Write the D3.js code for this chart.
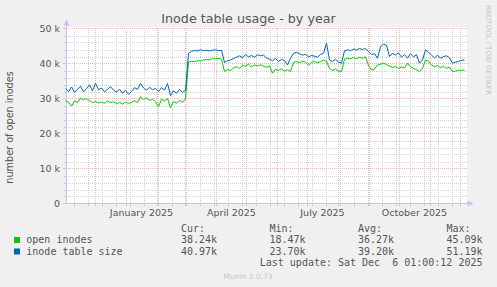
<!DOCTYPE html>
<html><head><meta charset="utf-8">
<script src="https://cdn.jsdelivr.net/npm/d3@7/dist/d3.min.js"></script>
<style>html,body{margin:0;padding:0;background:#F0F0F0;}svg{display:block;}</style>
</head><body>
<script>
// ---- data ----
const title = "Inode table usage - by year";
const yLabel = "number of open inodes";
const startTime = Date.UTC(2024, 10, 1, 1);   // Nov 1 2024 01:00
const endTime = Date.UTC(2025, 11, 6, 1);     // Dec 6 2025 01:00
const stepDays = 3;
const seriesNames = ["open inodes", "inode table size"];
const seriesColors = ["#00CC00", "#0066B3"];
// values in thousands, one every 3 days
const openInodes = [29.4,29.0,27.8,29.3,28.9,30.1,29.6,30.0,29.4,28.8,29.2,28.7,29.0,28.6,29.3,28.8,29.1,28.5,28.9,28.4,
29.0,28.6,28.9,29.4,28.8,30.5,29.7,30.2,29.4,29.8,29.1,27.6,29.8,29.3,30.0,27.3,29.1,28.7,29.5,28.9,
29.9,40.4,40.6,40.5,40.8,40.7,41.0,41.2,41.0,41.4,41.3,41.5,41.2,37.7,38.3,38.0,38.7,39.1,38.6,39.5,
39.2,39.8,39.0,39.6,39.3,39.6,39.2,38.9,39.3,37.2,38.4,38.0,38.5,37.8,38.2,37.7,40.3,40.6,40.2,40.7,
40.4,39.5,40.3,40.6,40.2,40.5,41.0,40.6,38.6,38.0,38.4,37.8,37.7,41.2,41.5,41.3,41.7,41.4,41.8,41.5,
41.9,39.4,38.1,38.4,39.6,39.8,40.1,39.7,39.2,38.9,39.1,38.6,39.0,38.7,40.1,39.1,38.6,38.2,37.7,38.6,
41.0,40.6,39.6,39.1,39.4,38.8,39.2,38.6,39.0,37.7,37.8,38.1,38.0,38.2];
const tableSize = [32.9,32.0,33.3,31.8,32.6,33.5,31.9,32.8,33.9,32.2,34.3,32.5,33.0,31.9,32.6,33.4,32.4,31.8,32.7,31.5,
32.3,31.2,32.0,33.1,32.6,34.3,33.0,32.4,33.2,32.5,32.9,32.0,33.1,32.4,34.3,30.8,32.2,31.5,32.6,31.8,
32.3,42.9,43.5,43.7,43.6,43.9,43.7,43.8,43.6,43.8,43.9,43.7,43.8,40.3,40.8,41.0,41.4,41.8,42.2,41.6,
42.6,41.9,42.3,41.8,42.5,42.2,42.4,41.6,41.2,40.8,41.4,40.6,41.2,40.8,39.6,41.5,42.9,43.2,42.8,42.4,
42.6,41.9,42.3,42.1,41.8,42.6,42.9,45.8,41.0,40.6,41.2,40.4,40.1,43.6,43.9,43.7,44.1,43.8,44.3,44.0,
44.3,43.4,42.6,42.8,41.5,44.8,45.5,45.2,42.0,42.9,42.4,43.0,41.8,42.6,41.5,42.8,41.9,42.5,40.1,41.0,
43.9,43.2,42.4,41.6,42.4,41.5,42.0,42.2,41.6,40.1,40.4,40.6,40.9,41.0];
const yTicks = [0, 10, 20, 30, 40, 50];
const yTickLabels = ["0", "10 k", "20 k", "30 k", "40 k", "50 k"];
const xLabelDates = [Date.UTC(2025,0,16), Date.UTC(2025,3,16), Date.UTC(2025,6,16), Date.UTC(2025,9,16)];
const xLabels = ["January 2025", "April 2025", "July 2025", "October 2025"];
const legendHeaders = ["Cur:", "Min:", "Avg:", "Max:"];
const legendValues = [["38.24k","18.47k","36.27k","45.09k"],["40.97k","23.70k","39.20k","51.19k"]];
const lastUpdate = "Last update: Sat Dec  6 01:00:12 2025";
const footer = "Munin 2.0.73";
const sideText = "RRDTOOL / TOBI OETIKER";

// ---- drawing ----
const W = 497, H = 287;
const svg = d3.select("body").append("svg").attr("width", W).attr("height", H)
  .style("font-family", "'DejaVu Sans', sans-serif");
svg.append("rect").attr("width", W).attr("height", H).attr("fill", "#F0F0F0");

const x = d3.scaleUtc().domain([startTime, endTime]).range([65.5, 465.5]);
const y = d3.scaleLinear().domain([0, 50]).range([203.5, 28.5]);
const L = 66, R = 467, T = 28, B = 203.5;

svg.append("rect").attr("x", L).attr("y", 27).attr("width", R - L).attr("height", B - 27).attr("fill", "#FFFFFF");

const g = svg.append("g").attr("shape-rendering", "crispEdges");
const minorColor = "#d2d2d2", majorColor = "#efb4b4";
// minor vertical grid (every 14 days)
const minorDates = [];
for (let t = Date.UTC(2024,10,10); t < endTime; t += 14*86400000) minorDates.push(t);
minorDates.forEach(t => {
  const px = Math.round(x(t)) + 0.5;
  g.append("line").attr("x1", px).attr("x2", px).attr("y1", T).attr("y2", B)
    .attr("stroke", minorColor).attr("stroke-dasharray", "1,1");
  g.append("line").attr("x1", px).attr("x2", px).attr("y1", B).attr("y2", B + 2).attr("stroke", "#c8c8c8");
});
// minor horizontal grid (every 2k)
d3.range(2, 50, 2).filter(v => v % 10 !== 0).forEach(v => {
  const py = Math.round(y(v)) + 0.5;
  g.append("line").attr("x1", L).attr("x2", R + 1).attr("y1", py).attr("y2", py)
    .attr("stroke", minorColor).attr("stroke-dasharray", "1,1");
  g.append("line").attr("x1", L - 2).attr("x2", L).attr("y1", py).attr("y2", py).attr("stroke", "#c8c8c8");
});
// major vertical grid (months)
const months = d3.utcMonth.range(new Date(startTime), new Date(endTime));
months.forEach(m => {
  const px = Math.round(x(m)) + 0.5;
  g.append("line").attr("x1", px).attr("x2", px).attr("y1", T).attr("y2", B)
    .attr("stroke", majorColor).attr("stroke-dasharray", "1,1");
  g.append("line").attr("x1", px).attr("x2", px).attr("y1", B).attr("y2", B + 2).attr("stroke", majorColor);
});
// major horizontal grid
yTicks.forEach(v => {
  const py = Math.round(y(v) - 0.5) + 0.5;
  g.append("line").attr("x1", L).attr("x2", R + 1).attr("y1", py).attr("y2", py)
    .attr("stroke", majorColor).attr("stroke-dasharray", "1,1");
  g.append("line").attr("x1", L - 3).attr("x2", L).attr("y1", py).attr("y2", py).attr("stroke", majorColor);
});

// axes
const axisColor = "#c4c4f4";
g.append("line").attr("x1", 66.5).attr("x2", 66.5).attr("y1", 204).attr("y2", 24).attr("stroke", axisColor);
g.append("line").attr("x1", 64).attr("x2", 469).attr("y1", 203.5).attr("y2", 203.5).attr("stroke", axisColor);
svg.append("path").attr("d", "M63.5,25.5 L66.5,19.5 L69.5,25.5 Z").attr("fill", axisColor);
svg.append("path").attr("d", "M467.5,200.5 L473.5,203.5 L467.5,206.5 Z").attr("fill", axisColor);

// series
const line = d3.line().x(d => x(d[0])).y(d => y(d[1]));
[openInodes, tableSize].forEach((arr, i) => {
  const pts = arr.map((v, k) => [startTime + k * stepDays * 86400000, v]);
  svg.append("path").attr("d", line(pts)).attr("fill", "none")
    .attr("stroke", seriesColors[i]).attr("stroke-width", 1).attr("stroke-linejoin", "round");
});

// y tick labels
yTicks.forEach((v, i) => {
  svg.append("text").attr("x", 60).attr("y", y(v) + 3.5).attr("text-anchor", "end")
    .attr("font-size", "9.5px").attr("fill", "#555").text(yTickLabels[i]);
});
// x labels
xLabelDates.forEach((t, i) => {
  svg.append("text").attr("x", x(t)).attr("y", 215.5).attr("text-anchor", "middle")
    .attr("font-size", "9.5px").attr("fill", "#555").text(xLabels[i]);
});

// title
svg.append("text").attr("x", 248.5).attr("y", 22.7).attr("text-anchor", "middle")
  .attr("font-size", "12.7px").attr("fill", "#555").text(title);
// y label
svg.append("text").attr("transform", "translate(13,127.5) rotate(-90)").attr("text-anchor", "middle")
  .attr("font-size", "9.7px").attr("fill", "#555").text(yLabel);
// side text
svg.append("text").attr("transform", "translate(485.5,5) rotate(90)")
  .attr("font-size", "7px").attr("fill", "#c4c4c4").text(sideText);

// legend
const mono = "'DejaVu Sans Mono', monospace";
const colX = [181, 269.5, 358, 446.5];
legendHeaders.forEach((h, i) => {
  svg.append("text").attr("x", colX[i]).attr("y", 231.5).attr("font-family", mono)
    .attr("font-size", "10px").attr("fill", "#555").text(h);
});
seriesNames.forEach((n, r) => {
  const by = 243 + r * 11.5;
  svg.append("rect").attr("x", 14).attr("y", by - 6).attr("width", 6).attr("height", 6).attr("fill", seriesColors[r]);
  svg.append("text").attr("x", 26.3).attr("y", by).attr("font-family", mono)
    .attr("font-size", "10px").attr("fill", "#555").text(n);
  legendValues[r].forEach((v, i) => {
    svg.append("text").attr("x", colX[i]).attr("y", by).attr("font-family", mono)
      .attr("font-size", "10px").attr("fill", "#555").text(v);
  });
});
svg.append("text").attr("x", 482.5).attr("y", 266).attr("text-anchor", "end").attr("font-family", mono)
  .attr("font-size", "10px").attr("fill", "#555").attr("xml:space", "preserve").style("white-space", "pre").text(lastUpdate);
svg.append("text").attr("x", 248).attr("y", 279).attr("text-anchor", "middle")
  .attr("font-size", "7.5px").attr("fill", "#c8c8c8").text(footer);
</script>
</body></html>
